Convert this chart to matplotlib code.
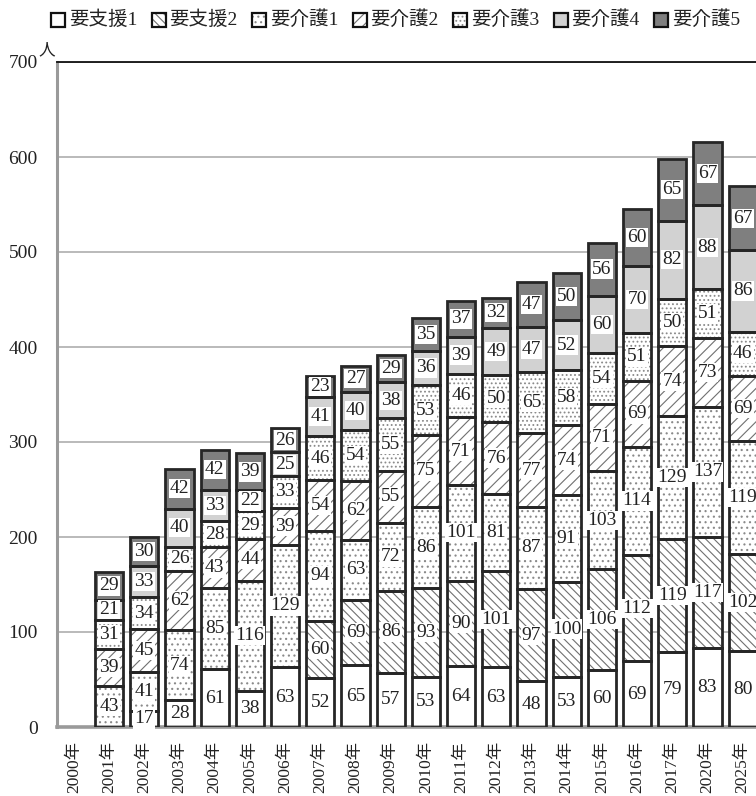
import numpy as np
import matplotlib
matplotlib.use("Agg")
import matplotlib.pyplot as plt
import matplotlib.patches as mpatches

plt.rcParams['font.family'] = ['Liberation Serif', 'Noto Sans CJK JP']
plt.rcParams['hatch.linewidth'] = 0.8

categories = ['2000年', '2001年', '2002年', '2003年', '2004年', '2005年', '2006年',
              '2007年', '2008年', '2009年', '2010年', '2011年', '2012年', '2013年',
              '2014年', '2015年', '2016年', '2017年', '2020年', '2025年']
series_names = ['要支援1', '要支援2', '要介護1', '要介護2', '要介護3', '要介護4', '要介護5']

shien1 = [0, 0, 17, 28, 61, 38, 63, 52, 65, 57, 53, 64, 63, 48, 53, 60, 69, 79, 83, 80]
shien2 = [0, 0, 0, 0, 0, 0, 0, 60, 69, 86, 93, 90, 101, 97, 100, 106, 112, 119, 117, 102]
kaigo1 = [0, 43, 41, 74, 85, 116, 129, 94, 63, 72, 86, 101, 81, 87, 91, 103, 114, 129, 137, 119]
kaigo2 = [0, 39, 45, 62, 43, 44, 39, 54, 62, 55, 75, 71, 76, 77, 74, 71, 69, 74, 73, 69]
kaigo3 = [0, 31, 34, 26, 28, 29, 33, 46, 54, 55, 53, 46, 50, 65, 58, 54, 51, 50, 51, 46]
kaigo4 = [0, 21, 33, 40, 33, 22, 25, 41, 40, 38, 36, 39, 49, 47, 52, 60, 70, 82, 88, 86]
kaigo5 = [0, 29, 30, 42, 42, 39, 26, 23, 27, 29, 35, 37, 32, 47, 50, 56, 60, 65, 67, 67]

yticks = [0, 100, 200, 300, 400, 500, 600, 700]

series = [shien1, shien2, kaigo1, kaigo2, kaigo3, kaigo4, kaigo5]
facecolors = ['white', 'white', 'white', 'white', 'white', '#d2d2d2', '#7f7f7f']
hatches = [None, '\\\\\\\\', '...', '///', '....', None, None]
hatchcols = ['#6a6a6a', '#707070', '#8a8a8a', '#707070', '#8a8a8a', '#6a6a6a', '#6a6a6a']
edgecol = '#262626'

W, H = 756, 796
fig = plt.figure(figsize=(W / 100, H / 100), dpi=100)
ax = fig.add_axes([57 / W, (H - 727) / H, 1 - 57 / W, (727 - 62) / H])

x = np.arange(len(categories))
bottom = np.zeros(len(categories))
bw = 0.8
for vals, fc, ht, hc in zip(series, facecolors, hatches, hatchcols):
    v = np.array(vals, dtype=float)
    m = v > 0
    ax.bar(x[m], v[m], bottom=bottom[m], width=bw, color=fc, edgecolor=hc,
           hatch=ht, linewidth=0, zorder=2)
    ax.bar(x[m], v[m], bottom=bottom[m], width=bw, fill=False, edgecolor=edgecol,
           linewidth=2.0, zorder=3)
    for xi, vi, bi in zip(x[m], v[m], bottom[m]):
        ax.text(xi, bi + vi / 2, f"{int(vi)}", ha='center', va='center', fontsize=14,
                color='#222222', zorder=5,
                bbox=dict(boxstyle='square,pad=0.06', fc='white', ec='none'))
    bottom = bottom + v

ax.set_xlim(-0.48, 19.38)
ax.set_ylim(0, 700)
ax.set_yticks(yticks)
ax.set_yticklabels([str(t) for t in yticks], fontsize=14, color='#222222')
ax.set_xticks(x)
ax.set_xticklabels(categories, rotation=90, fontsize=12.5, color='#222222', va='top')
ax.tick_params(axis='both', length=0)
ax.tick_params(axis='y', pad=14)
ax.tick_params(axis='x', pad=10)

ax.set_axisbelow(True)
ax.yaxis.grid(True, color='#b4b4b4', linewidth=1.3)
ax.spines['right'].set_visible(False)
ax.spines['top'].set_color('#111111')
ax.spines['top'].set_linewidth(1.3)
ax.spines['left'].set_color('#9a9a9a')
ax.spines['left'].set_linewidth(2.2)
ax.spines['bottom'].set_color('#9a9a9a')
ax.spines['bottom'].set_linewidth(2.6)

fig.text(47 / W, 1 - 50 / H, '人', ha='center', va='center', fontsize=12, color='#222222')

# legend drawn manually in figure pixel coordinates
leg_x0 = 51
leg_step = 100.5
box = 14
leg_yc = 20
for i, (name, fc, ht, hc) in enumerate(zip(series_names, facecolors, hatches, hatchcols)):
    bx = leg_x0 + i * leg_step
    r1 = mpatches.Rectangle((bx / W, 1 - (leg_yc + box / 2) / H), box / W, box / H,
                            transform=fig.transFigure, facecolor=fc, edgecolor=hc,
                            hatch=ht, linewidth=0)
    r2 = mpatches.Rectangle((bx / W, 1 - (leg_yc + box / 2) / H), box / W, box / H,
                            transform=fig.transFigure, fill=False, edgecolor='#111111',
                            linewidth=1.6)
    fig.add_artist(r1)
    fig.add_artist(r2)
    fig.text((bx + box + 4) / W, 1 - leg_yc / H, name, ha='left', va='center',
             fontsize=14, color='#222222')

fig.savefig('out.png', dpi=100)
